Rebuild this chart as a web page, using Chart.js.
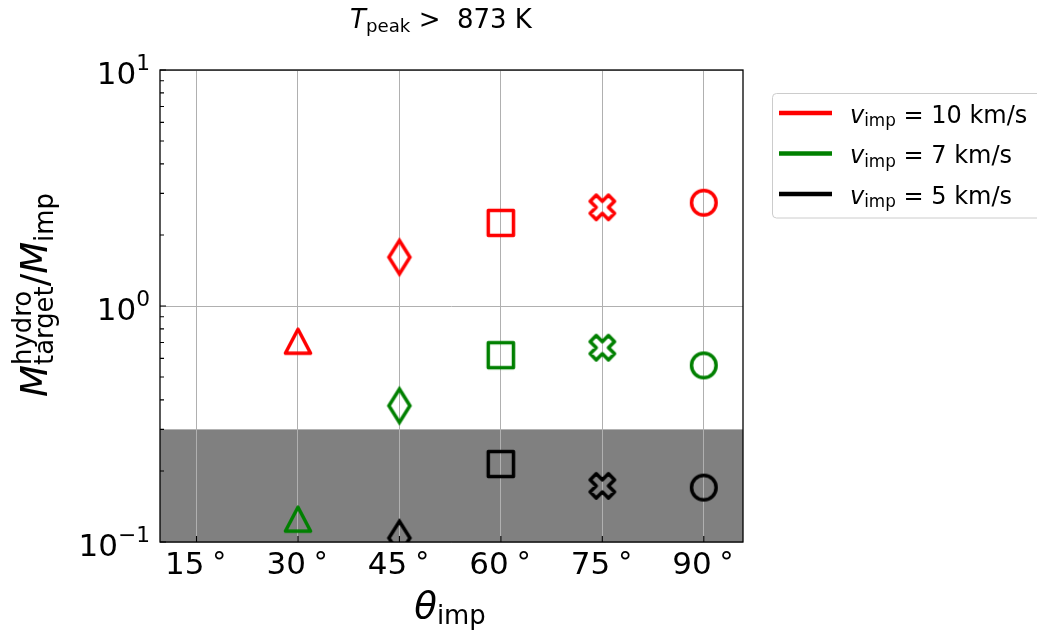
<!DOCTYPE html>
<html>
<head>
<meta charset="utf-8">
<script src="https://cdn.jsdelivr.net/npm/chart.js@4"></script>
<style>
html, body { margin: 0; padding: 0; background: #fff; }
</style>
</head>
<body>
<canvas id="hydroChart" width="1037" height="635"></canvas>
<script>
// impact angles on the x axis, and the marker used at each angle
const ANGLES = [30, 45, 60, 75, 90];
const MARKERS = ['triangle', 'thinDiamond', 'square', 'filledX', 'circle'];
const X_TICKS = [15, 30, 45, 60, 75, 90];
const Y_TICKS = [0.1, 1, 10];
const Y_EXPONENTS = ['\u22121', '0', '1'];

// impact speeds (km/s) and M_target^hydro / M_imp per angle
const SPEEDS = [10, 7, 5];
const COLORS = ['#ff0000', '#008000', '#000000'];
const RATIO_V10 = [0.709, 1.61, 2.25, 2.62, 2.74];
const RATIO_V7 = [0.125, 0.378, 0.619, 0.666, 0.56];
const RATIO_V5 = [null, 0.104, 0.214, 0.173, 0.170];
const RATIOS = [RATIO_V10, RATIO_V7, RATIO_V5];

// grey band below this ratio
const SHADE_BELOW = 0.3;

const FONT = '"DejaVu Sans", sans-serif';

// hollow markers, drawn once into small canvases and used as pointStyle
function makeMarker(shape, color) {
    const c = document.createElement('canvas');
    c.width = 48; c.height = 48;
    const g = c.getContext('2d');
    g.translate(24, 24);
    g.strokeStyle = color;
    g.lineWidth = 3.5;
    g.lineJoin = 'round';
    g.beginPath();
    if (shape === 'triangle') {
        g.moveTo(0, -12); g.lineTo(12.6, 12); g.lineTo(-12.6, 12); g.closePath();
    } else if (shape === 'thinDiamond') {
        g.lineJoin = 'miter';
        g.moveTo(0, -16.8); g.lineTo(10.5, 0); g.lineTo(0, 16.8); g.lineTo(-10.5, 0); g.closePath();
    } else if (shape === 'square') {
        g.rect(-12.6, -12.6, 25.2, 25.2);
    } else if (shape === 'filledX') {
        const pts = [[-1, -2], [0, -1], [1, -2], [2, -1], [1, 0], [2, 1],
                     [1, 2], [0, 1], [-1, 2], [-2, 1], [-1, 0], [-2, -1]];
        pts.forEach((p, i) => i ? g.lineTo(p[0] * 6.1, p[1] * 6.1) : g.moveTo(p[0] * 6.1, p[1] * 6.1));
        g.closePath();
    } else {
        g.arc(0, 0, 12.3, 0, Math.PI * 2);
    }
    g.stroke();
    return c;
}

// small helper for text with italic letters, sub- and superscripts
function runFont(size, italic) {
    return (italic ? 'italic ' : '') + size + 'px ' + FONT;
}
function runSize(r, size) {
    if (r.scale) return size * r.scale;
    return r.sub || r.sup ? size * 0.7 : size;
}
function runWidth(ctx, r, size) {
    if (r.stack) {
        ctx.font = runFont(size * 0.7, false);
        return Math.max(ctx.measureText(r.stack[0]).width, ctx.measureText(r.stack[1]).width);
    }
    ctx.font = runFont(runSize(r, size), r.it);
    return ctx.measureText(r.t).width;
}
function drawRuns(ctx, runs, x, y, size, align) {
    const widths = runs.map(r => runWidth(ctx, r, size));
    const total = widths.reduce((a, b) => a + b, 0);
    let cx = align === 'center' ? x - total / 2 : align === 'right' ? x - total : x;
    ctx.textAlign = 'left';
    ctx.textBaseline = 'alphabetic';
    ctx.fillStyle = '#000';
    runs.forEach((r, i) => {
        if (r.stack) {
            ctx.font = runFont(size * 0.7, false);
            ctx.fillText(r.stack[0], cx, y - size * 0.42);
            ctx.fillText(r.stack[1], cx, y + size * 0.15);
        } else {
            ctx.font = runFont(runSize(r, size), r.it);
            const dy = r.sub ? size * 0.15 : r.sup ? -size * (r.lift || 0.42) : 0;
            ctx.fillText(r.t, cx, y + dy);
        }
        cx += widths[i];
    });
}

const decorPlugin = {
    id: 'decor',
    beforeDraw(chart) {
        const { ctx, chartArea: a, scales } = chart;
        const yTop = scales.y.getPixelForValue(SHADE_BELOW);
        ctx.save();
        ctx.fillStyle = '#808080';
        ctx.fillRect(a.left, yTop, a.right - a.left, a.bottom - yTop);
        ctx.restore();
    },
    afterDatasetsDraw(chart) {
        const { ctx, chartArea: a, scales } = chart;
        ctx.save();

        // frame
        ctx.strokeStyle = '#000';
        ctx.lineWidth = 1.3;
        ctx.strokeRect(a.left, a.top, a.right - a.left, a.bottom - a.top);

        // inward ticks
        ctx.lineWidth = 1.1;
        ctx.beginPath();
        X_TICKS.forEach(v => {
            const px = scales.x.getPixelForValue(v);
            ctx.moveTo(px, a.bottom); ctx.lineTo(px, a.bottom - 6);
        });
        [0.1, 1, 10].forEach(dec => {
            for (let m = 1; m <= 9; m++) {
                const v = dec * m;
                if (v > 10) break;
                const py = scales.y.getPixelForValue(v);
                ctx.moveTo(a.left, py); ctx.lineTo(a.left + (m === 1 ? 6 : 4), py);
            }
        });
        ctx.stroke();

        // tick labels
        X_TICKS.forEach(v => {
            const px = scales.x.getPixelForValue(v);
            drawRuns(ctx, [{ t: String(v) }, { t: '\u2009' }, { t: '\u2218', sup: true, scale: 0.9, lift: 0.33 }],
                     px, 574, 31, 'center');
        });
        Y_TICKS.forEach((v, i) => {
            const py = scales.y.getPixelForValue(v);
            drawRuns(ctx, [{ t: '10' }, { t: Y_EXPONENTS[i], sup: true }], 150, py + 13.5, 31, 'right');
        });

        // axis titles
        drawRuns(ctx, [{ t: '\u03b8', it: true }, { t: 'imp', sub: true }], 450, 618, 37, 'center');
        ctx.save();
        ctx.translate(47, 295);
        ctx.rotate(-Math.PI / 2);
        drawRuns(ctx, [{ t: 'M', it: true }, { stack: ['hydro', 'target'] }, { t: '/' },
                       { t: 'M', it: true }, { t: 'imp', sub: true }], 0, 0, 37, 'center');
        ctx.restore();

        // title
        drawRuns(ctx, [{ t: 'T', it: true }, { t: 'peak', sub: true }, { t: ' >  873 K' }], 441, 28, 26, 'center');

        // legend
        ctx.beginPath();
        ctx.roundRect(772.5, 93.5, 320, 124.5, 4);
        ctx.fillStyle = 'rgba(255,255,255,0.8)';
        ctx.fill();
        ctx.strokeStyle = '#cccccc';
        ctx.lineWidth = 1;
        ctx.stroke();
        SPEEDS.forEach((s, i) => {
            const ly = 113 + i * 40.5;
            ctx.strokeStyle = COLORS[i];
            ctx.lineWidth = 4.5;
            ctx.beginPath();
            ctx.moveTo(779, ly); ctx.lineTo(832, ly);
            ctx.stroke();
            drawRuns(ctx, [{ t: 'v', it: true }, { t: 'imp', sub: true }, { t: ' = ' + s + ' km/s' }],
                     850, ly + 9.5, 24, 'left');
        });
        ctx.restore();
    }
};

const markerImages = COLORS.map(col => MARKERS.map(m => makeMarker(m, col)));

new Chart(document.getElementById('hydroChart'), {
    type: 'scatter',
    data: {
        datasets: SPEEDS.map((s, i) => ({
            label: 'v_imp = ' + s + ' km/s',
            data: ANGLES.map((a, j) => ({ x: a, y: RATIOS[i][j] })),
            pointStyle: markerImages[i],
            pointRadius: 14,
            clip: 0
        }))
    },
    options: {
        responsive: false,
        animation: false,
        events: [],
        layout: { padding: { top: 70, right: 294, bottom: 0, left: 0 } },
        plugins: { legend: { display: false }, tooltip: { enabled: false } },
        scales: {
            x: {
                type: 'linear',
                min: 9.6,
                max: 95.8,
                afterBuildTicks: scale => { scale.ticks = X_TICKS.map(v => ({ value: v })); },
                afterFit: scale => { scale.height = 93; },
                ticks: { display: false },
                grid: { color: '#b0b0b0', lineWidth: 1, drawTicks: false },
                border: { display: false }
            },
            y: {
                type: 'logarithmic',
                min: 0.1,
                max: 10,
                afterBuildTicks: scale => { scale.ticks = Y_TICKS.map(v => ({ value: v })); },
                afterFit: scale => { scale.width = 160; },
                ticks: { display: false },
                grid: { color: '#b0b0b0', lineWidth: 1, drawTicks: false },
                border: { display: false }
            }
        }
    },
    plugins: [decorPlugin]
});
</script>
</body>
</html>
